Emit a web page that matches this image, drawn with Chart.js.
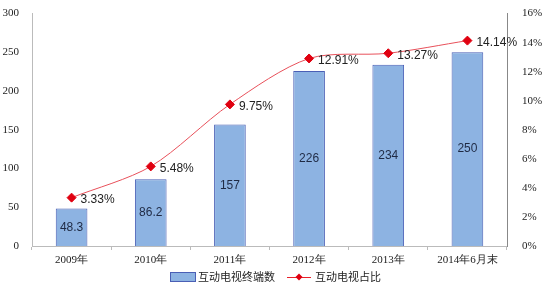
<!DOCTYPE html>
<html>
<head>
<meta charset="utf-8">
<script src="https://cdn.jsdelivr.net/npm/chart.js@4"></script>
<style>
  html, body { margin: 0; padding: 0; background: #fff; }
  #wrap { width: 555px; height: 288px; }
</style>
</head>
<body>
<div id="wrap"><canvas id="c" width="555" height="288"></canvas></div>
<script>
const categories = ['2009年', '2010年', '2011年', '2012年', '2013年', '2014年6月末'];
const terminals = [48.3, 86.2, 157, 226, 234, 250];
const share = [3.33, 5.48, 9.75, 12.91, 13.27, 14.14];
const leftTicks = [0, 50, 100, 150, 200, 250, 300];
const rightTicks = [0, 2, 4, 6, 8, 10, 12, 14, 16];

const barLabel = '互动电视终端数';
const lineLabel = '互动电视占比';

// value labels + bottom legend
const labelPlugin = {
    id: 'labels',
    afterDatasetsDraw(chart) {
        const ctx = chart.ctx;
        ctx.save();
        ctx.textBaseline = 'middle';
        ctx.font = '12px "Liberation Sans", "Noto Sans", sans-serif';
        ctx.fillStyle = '#1f2a44';
        ctx.textAlign = 'center';
        chart.getDatasetMeta(1).data.forEach((bar, i) => {
            const mid = (bar.y + bar.base) / 2;
            ctx.fillText(String(terminals[i]), bar.x, mid);
        });
        ctx.textAlign = 'left';
        ctx.fillStyle = '#222';
        chart.getDatasetMeta(0).data.forEach((pt, i) => {
            ctx.fillText(share[i].toFixed(2) + '%', pt.x + 9, pt.y + 2);
        });

        // legend
        const ly = 277;
        ctx.font = '11px "Noto Sans CJK SC", sans-serif';
        ctx.fillStyle = '#8db3e2';
        ctx.strokeStyle = '#4a5fb5';
        ctx.lineWidth = 1;
        ctx.fillRect(170.5, ly - 4.5, 25, 9);
        ctx.strokeRect(170.5, ly - 4.5, 25, 9);
        ctx.fillStyle = '#222';
        ctx.fillText(barLabel, 198, ly);

        ctx.strokeStyle = '#e8202a';
        ctx.beginPath();
        ctx.moveTo(287, ly + 0.5);
        ctx.lineTo(311, ly + 0.5);
        ctx.stroke();
        ctx.fillStyle = '#e00010';
        ctx.beginPath();
        ctx.moveTo(299, ly - 3.5);
        ctx.lineTo(302.5, ly);
        ctx.lineTo(299, ly + 3.5);
        ctx.lineTo(295.5, ly);
        ctx.closePath();
        ctx.fill();
        ctx.fillStyle = '#222';
        ctx.fillText(lineLabel, 315, ly);
        ctx.restore();
    }
};

new Chart(document.getElementById('c'), {
    data: {
        labels: categories,
        datasets: [
            {
                type: 'line',
                label: lineLabel,
                data: share,
                yAxisID: 'y1',
                borderColor: '#e8505a',
                borderWidth: 1,
                tension: 0.3,
                pointStyle: 'rectRot',
                pointRadius: 4.5,
                pointBackgroundColor: '#e00010',
                pointBorderColor: '#e00010',
                order: 0
            },
            {
                type: 'bar',
                label: barLabel,
                data: terminals,
                yAxisID: 'y',
                backgroundColor: '#8db3e2',
                borderColor: '#4a5fb5',
                borderWidth: 1,
                barPercentage: 0.4,
                categoryPercentage: 1,
                order: 1
            }
        ]
    },
    options: {
        responsive: false,
        animation: false,
        layout: { padding: { top: 10, bottom: 20, left: 0, right: 0 } },
        plugins: { legend: { display: false }, tooltip: { enabled: false } },
        scales: {
            x: {
                offset: true,
                grid: { offset: true, drawOnChartArea: false, tickLength: 4, color: '#bbb' },
                border: { color: '#bbb' },
                ticks: { color: '#222', font: { family: '"Liberation Serif", serif', size: 11 }, padding: 4 },
                afterFit(s) { s.height = 22; }
            },
            y: {
                position: 'left',
                min: 0, max: 300,
                afterBuildTicks(s) { s.ticks = leftTicks.map(v => ({ value: v })); },
                grid: { display: false },
                border: { color: '#bbb' },
                ticks: { color: '#222', font: { family: '"Liberation Serif", serif', size: 11 }, padding: 5 },
                afterFit(s) { s.width = 32; }
            },
            y1: {
                position: 'right',
                min: 0, max: 16,
                afterBuildTicks(s) { s.ticks = rightTicks.map(v => ({ value: v })); },
                grid: { display: false },
                border: { color: '#888' },
                ticks: {
                    color: '#222',
                    font: { family: '"Liberation Serif", serif', size: 11 },
                    padding: 7,
                    callback: v => v + '%'
                },
                afterFit(s) { s.width = 48; }
            }
        }
    },
    plugins: [labelPlugin]
});
</script>
</body>
</html>
